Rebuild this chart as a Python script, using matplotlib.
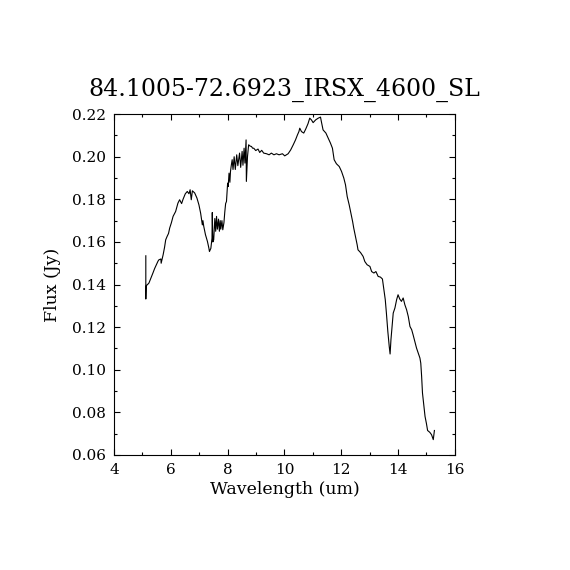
import matplotlib
matplotlib.use("Agg")
import matplotlib.pyplot as plt
from matplotlib.ticker import MultipleLocator

# spectrum
wavelength = [5.12, 5.12, 5.13, 5.14, 5.18, 5.23, 5.30, 5.37, 5.43, 5.49, 5.55,
              5.58, 5.65, 5.66, 5.73, 5.78, 5.82, 5.87, 5.92, 5.96, 6.02,
              6.08, 6.17, 6.25, 6.31, 6.38, 6.43, 6.51, 6.58, 6.64, 6.68,
              6.72, 6.76, 6.84, 6.92, 6.99, 7.05, 7.09, 7.11, 7.13, 7.16,
              7.22, 7.29, 7.34, 7.36, 7.41, 7.45, 7.46, 7.48, 7.51, 7.55,
              7.58, 7.61, 7.64, 7.68, 7.71, 7.74, 7.76, 7.80, 7.83, 7.87,
              7.90, 7.93, 7.96, 8.00, 8.02, 8.05, 8.08, 8.10, 8.13, 8.16,
              8.19, 8.23, 8.27, 8.32, 8.36, 8.42, 8.46, 8.51, 8.54, 8.58,
              8.61, 8.65, 8.66, 8.70, 8.74, 8.79, 8.84, 8.88, 8.92, 8.99,
              9.07, 9.13, 9.20, 9.27, 9.37, 9.46, 9.54, 9.63, 9.72, 9.81,
              9.93, 10.01, 10.13, 10.22, 10.31, 10.39, 10.46, 10.51, 10.54,
              10.60, 10.68, 10.75, 10.83, 10.89, 10.95, 11.01, 11.10, 11.19,
              11.27, 11.30, 11.36, 11.46, 11.54, 11.62, 11.69, 11.75, 11.83,
              11.93, 12.01, 12.09, 12.15, 12.21, 12.28, 12.34, 12.40, 12.44,
              12.50, 12.56, 12.59, 12.68, 12.77, 12.83, 12.91, 13.01, 13.07,
              13.15, 13.22, 13.30, 13.38, 13.45, 13.50, 13.55, 13.59, 13.64,
              13.69, 13.72, 13.75, 13.78, 13.83, 13.89, 13.95, 14.00, 14.06,
              14.12, 14.18, 14.24, 14.30, 14.36, 14.42, 14.48, 14.53, 14.59,
              14.65, 14.71, 14.77, 14.80, 14.83, 14.86, 14.91, 14.95, 15.00,
              15.04, 15.12, 15.18, 15.24, 15.26, 15.28]
flux = [0.1535, 0.1332, 0.1390, 0.1395, 0.1400, 0.1407, 0.1430, 0.1454, 0.1475,
        0.1493, 0.1510, 0.1516, 0.1520, 0.1500, 0.1540, 0.1575, 0.1610, 0.1626,
        0.1640, 0.1665, 0.1690, 0.1720, 0.1743, 0.1782, 0.1798, 0.1780, 0.1800,
        0.1826, 0.1837, 0.1826, 0.1845, 0.1798, 0.1840, 0.1830, 0.1806, 0.1774,
        0.1735, 0.1696, 0.1680, 0.1700, 0.1673, 0.1634, 0.1602, 0.1571, 0.1555,
        0.1570, 0.1618, 0.1738, 0.1600, 0.1610, 0.1710, 0.1650, 0.1720, 0.1660,
        0.1707, 0.1650, 0.1700, 0.1660, 0.1700, 0.1657, 0.1690, 0.1740, 0.1780,
        0.1790, 0.1876, 0.1860, 0.1923, 0.1880, 0.1930, 0.1960, 0.1986, 0.1940,
        0.2000, 0.1940, 0.2009, 0.1958, 0.2017, 0.1950, 0.2025, 0.1960, 0.2040,
        0.1970, 0.2079, 0.1884, 0.2001, 0.2056, 0.2050, 0.2048, 0.2040, 0.2040,
        0.2029, 0.2036, 0.2020, 0.2030, 0.2017, 0.2014, 0.2009, 0.2017, 0.2009,
        0.2014, 0.2009, 0.2014, 0.2004, 0.2014, 0.2032, 0.2056, 0.2079, 0.2103,
        0.2118, 0.2134, 0.2118, 0.2111, 0.2130, 0.2155, 0.2181, 0.2173, 0.2160,
        0.2173, 0.2181, 0.2186, 0.2165, 0.2126, 0.2111, 0.2087, 0.2064, 0.2040,
        0.1986, 0.1967, 0.1954, 0.1931, 0.1900, 0.1868, 0.1813, 0.1774, 0.1735,
        0.1696, 0.1665, 0.1626, 0.1587, 0.1563, 0.1550, 0.1532, 0.1508, 0.1493,
        0.1485, 0.1461, 0.1454, 0.1461, 0.1438, 0.1435, 0.1426, 0.1376, 0.1329,
        0.1266, 0.1180, 0.1109, 0.1074, 0.1141, 0.1188, 0.1266, 0.1290, 0.1329,
        0.1352, 0.1332, 0.1321, 0.1337, 0.1305, 0.1282, 0.1250, 0.1203, 0.1188,
        0.1164, 0.1133, 0.1102, 0.1078, 0.1055, 0.1031, 0.0969, 0.0891, 0.0828,
        0.0781, 0.0747, 0.0715, 0.0706, 0.0695, 0.0672, 0.0695, 0.0715]

title = "84.1005-72.6923_IRSX_4600_SL"

plt.rcParams['font.family'] = ['DejaVu Serif']

fig = plt.figure(figsize=(5.7, 5.7), dpi=100)
ax = fig.add_axes([0.2, 0.2018, 0.598, 0.598])

ax.plot(wavelength, flux, color='black', lw=0.8)

ax.set_xlim(4, 16)
ax.set_ylim(0.06, 0.22)
ax.xaxis.set_major_locator(MultipleLocator(2))
ax.xaxis.set_minor_locator(MultipleLocator(1))
ax.yaxis.set_major_locator(MultipleLocator(0.02))
ax.yaxis.set_minor_locator(MultipleLocator(0.01))
ax.yaxis.set_major_formatter(plt.FormatStrFormatter('%.2f'))
ax.tick_params(which='both', direction='in', top=True, right=True,
               width=0.8, labelsize=11)
ax.tick_params(which='major', length=4.5, pad=6)
ax.tick_params(which='minor', length=2.5)
for s in ax.spines.values():
    s.set_linewidth(0.8)

ax.set_xlabel('Wavelength (um)', fontsize=12.5, labelpad=3)
ax.set_ylabel('Flux (Jy)', fontsize=12.5, labelpad=8)
ax.set_title(title, fontsize=17, pad=13)

fig.savefig('out.png', dpi=100)
